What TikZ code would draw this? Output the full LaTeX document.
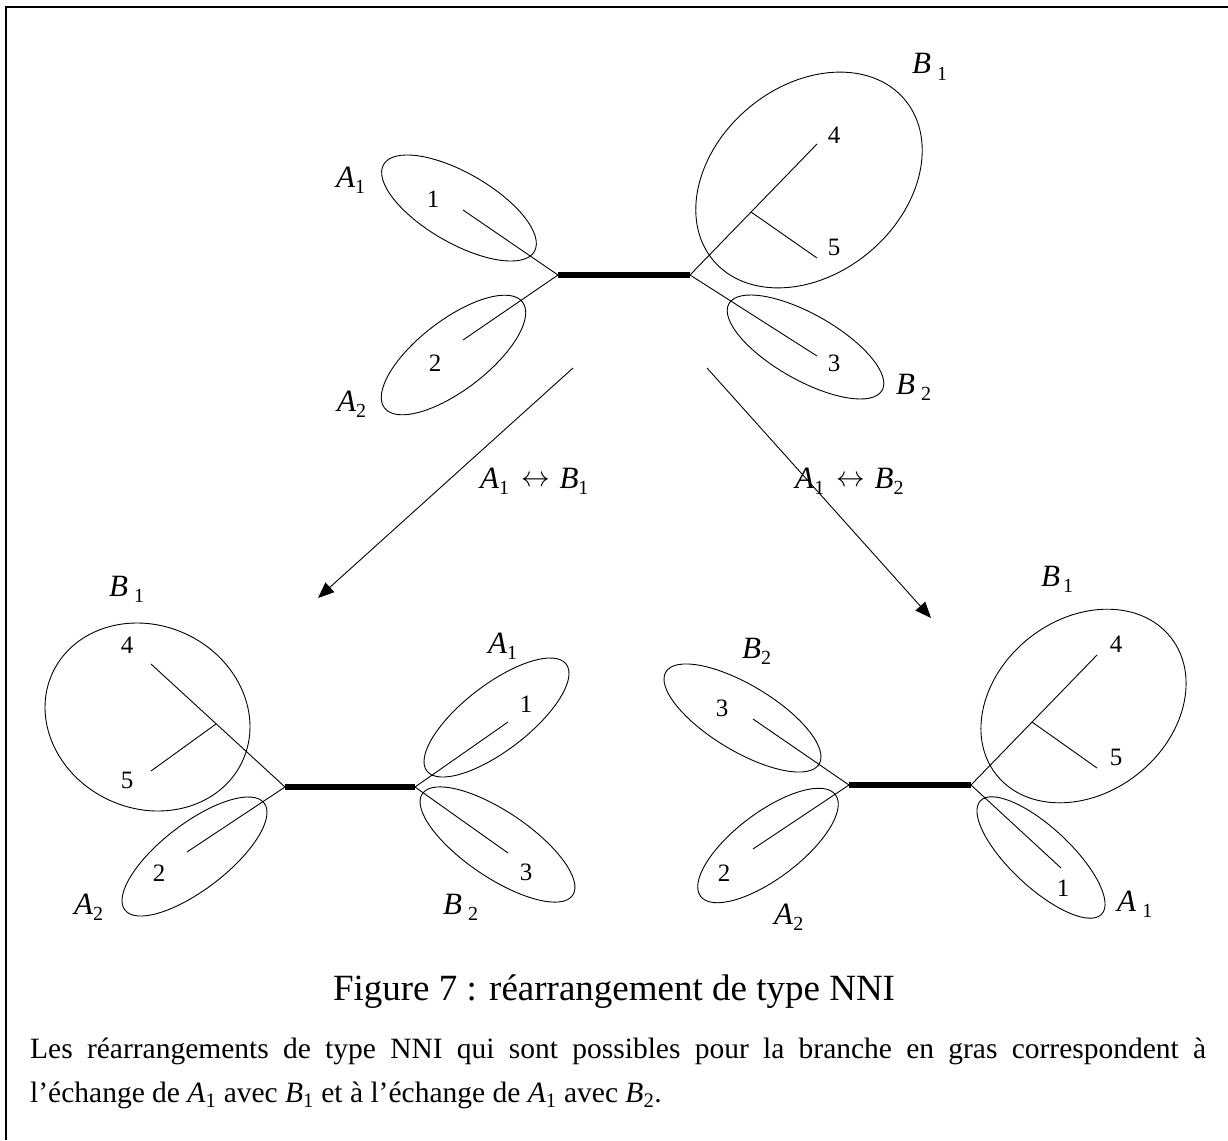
\documentclass[tikz,border=0pt]{standalone}
\usepackage{fontspec}
\usepackage{graphicx}
\setmainfont{Liberation Serif}
\usetikzlibrary{arrows.meta}
\newcommand\grp[3][0pt]{\textit{#2}\kern#1\raisebox{-0.22em}{\fontsize{20}{20}\selectfont #3}}
\newcommand\swaparrow{\raisebox{0.05em}{\scalebox{1.15}{$\leftrightarrow$}}}
\newcommand\blobat[4]{\draw[blobline, rotate around={#2:(#1)}] (#1) ellipse [x radius=#3pt, y radius=#4pt];}
\begin{document}
\begin{tikzpicture}[x=1pt,y=-1pt,
  thinline/.style={line width=0.9pt},
  boldline/.style={line width=5.5pt},
  blobline/.style={line width=0.9pt},
  digit/.style={inner sep=0pt, font=\fontsize{25}{25}\selectfont},
  lab/.style={inner sep=0pt, anchor=base west, font=\fontsize{31}{31}\selectfont},
  arr/.style={line width=0.9pt, -{Triangle[length=16pt,width=13pt]}},
  txt/.style={inner sep=0pt, anchor=base west, font=\fontsize{29.5}{29.5}\selectfont}]
\useasboundingbox (0,0) rectangle (1228,1140);
% frame
\draw[line width=1.8pt] (6,1140) -- (6,7.3) -- (1228,7.3);

% ---------------- top tree ----------------
\coordinate (tL) at (558,275); \coordinate (tR) at (690,275);
\coordinate (t1) at (463,210); \coordinate (t2) at (463,340);
\coordinate (tI) at (751,212); \coordinate (t4) at (817,144);
\coordinate (t5) at (817,258); \coordinate (t3) at (817,356);
\draw[boldline] (tL) -- (tR);
\draw[thinline] (tL) -- (t1);
\draw[thinline] (tL) -- (t2);
\draw[thinline] (tR) -- (t4);
\draw[thinline] (tI) -- (t5);
\draw[thinline] (tR) -- (t3);
\blobat{459,208}{-30}{87}{35}
\blobat{453.5,355}{37.5}{87}{35}
\blobat{809,180}{40}{125}{94}
\blobat{805.5,347}{-29.5}{88}{33}
\node[digit] (tn1) at (433,199) {1};
\node[digit] (tn2) at (435,363) {2};
\node[digit] (tn4) at (834,135) {4};
\node[digit] (tn5) at (834,247) {5};
\node[digit] (tn3) at (834,363) {3};
\node[lab] (tA1) at (336,187) {\grp{A}{1}};
\node[lab] (tA2) at (337,411) {\grp{A}{2}};
\node[lab] (tB1) at (912,74) {\grp[6pt]{B}{1}};
\node[lab] (tB2) at (896,394) {\grp[6pt]{B}{2}};

% ---------------- arrows ----------------
\coordinate (aL0) at (573,368); \coordinate (aL1) at (318,598);
\coordinate (aR0) at (707,368); \coordinate (aR1) at (931,618);
\draw[arr] (aL0) -- (aL1);
\draw[arr] (aR0) -- (aR1);
\node[lab] (swap1) at (480,488) {\grp{A}{1}\hspace{0.4em}\swaparrow\hspace{0.3em}\grp{B}{1}};
\node[lab] (swap2) at (795,488) {\grp{A}{1}\hspace{0.4em}\swaparrow\hspace{0.3em}\grp{B}{2}};

% ---------------- bottom-left tree ----------------
\coordinate (lL) at (285,787); \coordinate (lR) at (415,787);
\coordinate (lI) at (216,724); \coordinate (l4) at (151,664);
\coordinate (l5) at (151,771); \coordinate (l2) at (187,852);
\coordinate (l1) at (508,722); \coordinate (l3) at (508,853);
\draw[boldline] (lL) -- (lR);
\draw[thinline] (lL) -- (l4);
\draw[thinline] (lI) -- (l5);
\draw[thinline] (lL) -- (l2);
\draw[thinline] (lR) -- (l1);
\draw[thinline] (lR) -- (l3);
\blobat{147.5,717}{-25}{104.7}{91.5}
\blobat{194.5,856.5}{37.5}{87.8}{33}
\blobat{496.5,717.5}{37.5}{87.8}{33}
\blobat{497.5,844.5}{-34}{90.7}{33}
\node[digit] (ln4) at (127,645) {4};
\node[digit] (ln5) at (127,780) {5};
\node[digit] (ln2) at (159,873) {2};
\node[digit] (ln1) at (526,704) {1};
\node[digit] (ln3) at (526,872) {3};
\node[lab] (lB1) at (109,596) {\grp[6pt]{B}{1}};
\node[lab] (lA1) at (488,653) {\grp{A}{1}};
\node[lab] (lB2) at (443,914) {\grp[6pt]{B}{2}};
\node[lab] (lA2) at (74,914) {\grp{A}{2}};

% ---------------- bottom-right tree ----------------
\coordinate (rL) at (849,785); \coordinate (rR) at (971,785);
\coordinate (r3) at (753,719); \coordinate (r2) at (753,849);
\coordinate (rI) at (1032,722); \coordinate (r4) at (1097,655);
\coordinate (r5) at (1097,768); \coordinate (r1) at (1061,868);
\draw[boldline] (rL) -- (rR);
\draw[thinline] (rL) -- (r3);
\draw[thinline] (rL) -- (r2);
\draw[thinline] (rR) -- (r4);
\draw[thinline] (rI) -- (r5);
\draw[thinline] (rR) -- (r1);
\blobat{742.5,718}{-31}{89.4}{33}
\blobat{768,845.5}{37}{84.4}{33}
\blobat{1083.5,706}{38}{111}{87}
\blobat{1041,857.5}{-43}{83}{30}
\node[digit] (rn3) at (722,708) {3};
\node[digit] (rn2) at (724,873) {2};
\node[digit] (rn4) at (1116,644) {4};
\node[digit] (rn5) at (1116,757) {5};
\node[digit] (rn1) at (1063,888) {1};
\node[lab] (rB2) at (742,658) {\grp{B}{2}};
\node[lab] (rA2) at (774,924) {\grp{A}{2}};
\node[lab] (rB1) at (1041,586) {\grp[3pt]{B}{1}};
\node[lab] (rA1) at (1117,911) {\grp[6pt]{A}{1}};

% ---------------- caption and text ----------------
\node[txt, anchor=base, font=\fontsize{37}{37}\selectfont] (cap) at (614,1000) {Figure 7 : réarrangement de type NNI};
\node[txt] (par1) at (30,1058) {\makebox[1176pt][s]{Les réarrangements de type NNI qui sont possibles pour la branche en gras correspondent à}};
\node[txt] (par2) at (30,1102) {l’échange de \textit{A}\textsubscript{1} avec \textit{B}\textsubscript{1} et à l’échange de \textit{A}\textsubscript{1} avec \textit{B}\textsubscript{2}.};
\end{tikzpicture}
\end{document}
